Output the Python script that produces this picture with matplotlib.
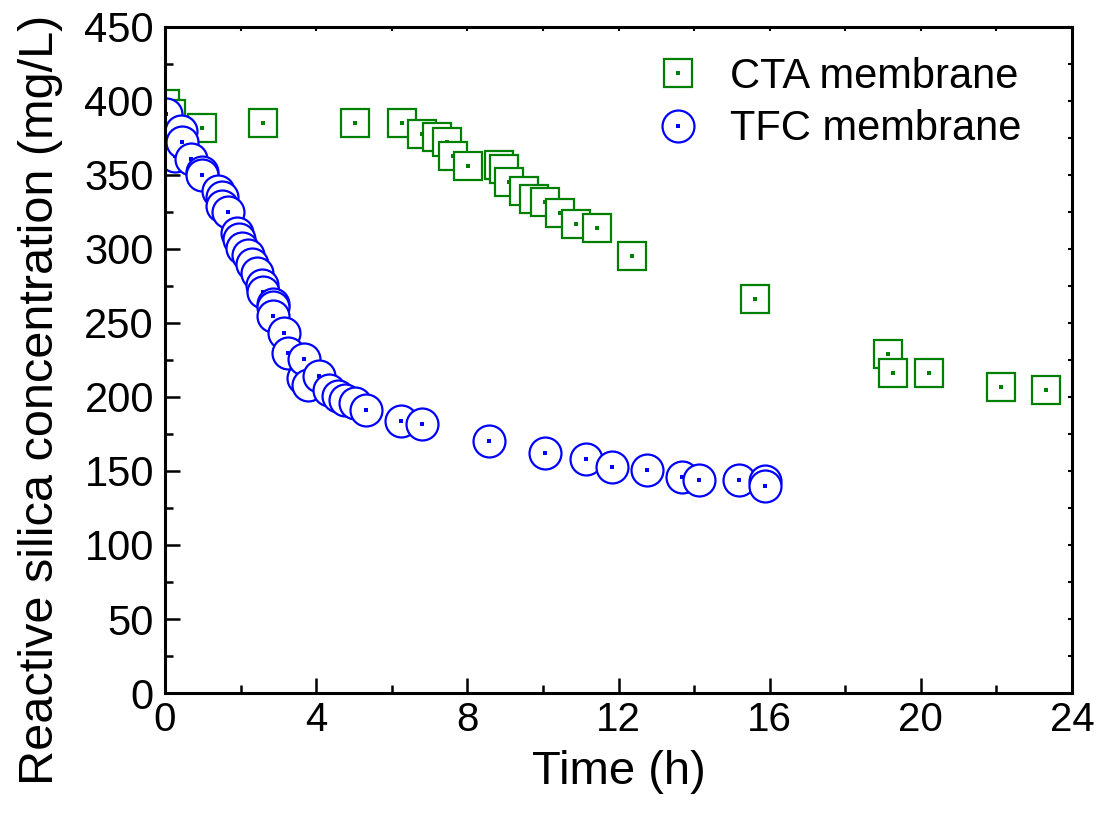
import matplotlib.pyplot as plt
from matplotlib.lines import Line2D
from matplotlib.legend_handler import HandlerTuple
from matplotlib.ticker import MultipleLocator

# CTA membrane
cta_time = [0.0, 0.16, 0.98, 2.59, 5.03, 6.27, 6.80, 7.20, 7.46, 7.62, 8.02, 8.84, 8.97,
            9.10, 9.50, 9.77, 10.06, 10.45, 10.88, 11.43, 12.36, 15.61, 19.13, 19.26,
            20.22, 22.12, 23.31]
cta_conc = [398, 391, 382, 385, 385, 385, 378, 376, 372, 363, 356, 357, 354,
            345, 339, 334, 332, 324, 317, 314, 295, 266, 229, 216,
            216, 207, 205]

# TFC membrane
tfc_time = [0.03, 0.26, 0.42, 0.45, 0.69, 0.98, 0.98, 1.40, 1.51, 1.51, 1.67, 1.91, 1.96,
            2.04, 2.20, 2.30, 2.43, 2.57, 2.60, 2.86, 2.86, 2.86, 3.15, 3.26, 3.65, 3.68,
            3.78, 4.07, 4.34, 4.58, 4.76, 5.03, 5.32, 6.24, 6.80, 8.57, 10.06, 11.14,
            11.83, 12.75, 13.68, 14.13, 15.19, 15.88, 15.88]
tfc_conc = [391, 363, 380, 372, 361, 352, 350, 339, 335, 329, 325, 311, 307,
            301, 296, 290, 284, 276, 271, 263, 261, 255, 243, 230, 213, 226,
            208, 214, 205, 201, 198, 196, 191, 184, 182, 170, 162, 158,
            153, 151, 146, 144, 144, 143, 140]

x_ticks = [0, 4, 8, 12, 16, 20, 24]
y_ticks = [0, 50, 100, 150, 200, 250, 300, 350, 400, 450]

green = "#008000"
blue = "#0000FF"
font = ['Liberation Sans', 'DejaVu Sans']

fig = plt.figure(figsize=(11.04, 8.13), dpi=100)
ax = fig.add_axes([0.1495, 0.1476, 0.8215, 0.8192])

# each point: white-filled marker with a small dot in the middle, drawn in order
z = 3
for t, c in zip(cta_time, cta_conc):
    ax.plot([t], [c], marker='s', ms=20, mfc='white', mec=green, mew=1.6, ls='none', zorder=z)
    ax.plot([t], [c], marker='s', ms=2.2, mfc=green, mec=green, mew=0, ls='none', zorder=z + 0.5)
    z += 1
for t, c in zip(tfc_time, tfc_conc):
    ax.plot([t], [c], marker='o', ms=23, mfc='white', mec=blue, mew=1.6, ls='none', zorder=z)
    ax.plot([t], [c], marker='s', ms=2.2, mfc=blue, mec=blue, mew=0, ls='none', zorder=z + 0.5)
    z += 1

ax.set_xlim(0, 24)
ax.set_ylim(0, 450)
ax.set_xticks(x_ticks)
ax.set_yticks(y_ticks)
ax.xaxis.set_minor_locator(MultipleLocator(2))
ax.yaxis.set_minor_locator(MultipleLocator(25))

for s in ax.spines.values():
    s.set_linewidth(2.2)
    s.set_zorder(200)

ax.tick_params(which='major', direction='in', length=10.5, width=1.8, top=False, right=False)
ax.tick_params(which='minor', direction='in', length=5.5, width=1.8, top=False, right=False)
ax.tick_params(axis='x', which='major', pad=6)
ax.tick_params(axis='y', which='major', pad=8)

# short ticks on top and right
ax_top = ax.secondary_xaxis('top')
ax_top.set_xticks(list(range(0, 25, 2)))
ax_top.tick_params(direction='in', length=3, width=1.5, labeltop=False)
ax_top.spines['top'].set_visible(False)
ax_right = ax.secondary_yaxis('right')
ax_right.set_yticks(list(range(0, 451, 25)))
ax_right.tick_params(direction='in', length=3, width=1.5, labelright=False)
ax_right.spines['right'].set_visible(False)

for lab in ax.get_xticklabels():
    lab.set_fontfamily(font)
    lab.set_fontsize(29)
for lab in ax.get_yticklabels():
    lab.set_fontfamily(font)
    lab.set_fontsize(30)

ax.set_xlabel('Time (h)', family=font, fontsize=34, labelpad=8)
ax.set_ylabel('Reactive silica concentration (mg/L)', family=font, fontsize=35)
ax.yaxis.set_label_coords(-0.113, 0.44)

h_cta = (Line2D([], [], marker='s', ms=20, mfc='white', mec=green, mew=1.6, ls='none'),
         Line2D([], [], marker='s', ms=2.2, mfc=green, mec=green, mew=0, ls='none'))
h_tfc = (Line2D([], [], marker='o', ms=23, mfc='white', mec=blue, mew=1.6, ls='none'),
         Line2D([], [], marker='s', ms=2.2, mfc=blue, mec=blue, mew=0, ls='none'))
leg = ax.legend([h_cta, h_tfc], ['CTA membrane', 'TFC membrane'],
                handler_map={tuple: HandlerTuple(ndivide=1, pad=0)},
                loc='upper right', bbox_to_anchor=(0.963, 0.98), frameon=False,
                prop={'family': font, 'size': 30},
                handlelength=1.2, handletextpad=0.65, labelspacing=0.3, borderaxespad=0)
leg.set_zorder(300)

fig.savefig('out.png', dpi=100)
